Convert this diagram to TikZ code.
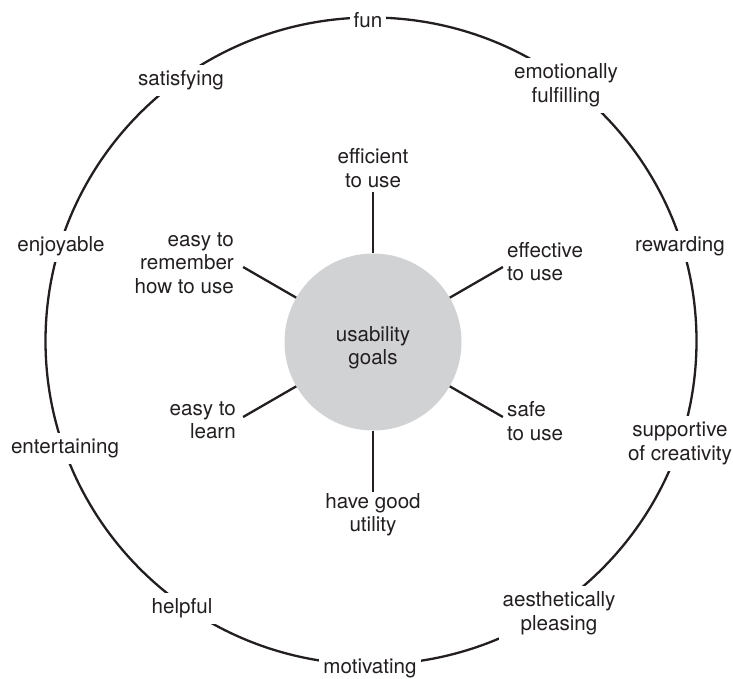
\documentclass[tikz,border=0pt]{standalone}
\usepackage{fontspec}
\setmainfont{TeX Gyre Heros}
\definecolor{goalgray}{RGB}{209,210,212}
\definecolor{ink}{RGB}{35,31,32}
\begin{document}
\begin{tikzpicture}[x=1pt,y=-1pt,
  txt/.style={font=\fontsize{20.6}{23.5}\selectfont, text=ink},
  outerlbl/.style={txt, fill=white, inner sep=4pt, align=center},
  innerlbl/.style={txt, inner sep=0pt},
  spoke/.style={draw=ink, line width=2.3pt},
  ring/.style={draw=ink, line width=2.3pt}]
\useasboundingbox (0,0) rectangle (733,678);
% outer ring
\draw[ring] (371,341) ellipse [x radius=325.5, y radius=323.5];
% centre
\node[circle, fill=goalgray, minimum size=177pt, inner sep=0pt] (goals) at (373,342) {};
\node[innerlbl, align=center] (goalstxt) at (373,348.3) {\strut usability\\\strut goals};
% spoke ends
\coordinate (sN)  at (373,192);
\coordinate (sNE) at (502.9,267);
\coordinate (sNW) at (243.1,267);
\coordinate (sSW) at (243.1,417);
\coordinate (sSE) at (502.9,417);
\coordinate (sS)  at (373,492);
\draw[spoke] (goals.90)  -- (sN);
\draw[spoke] (goals.30)  -- (sNE);
\draw[spoke] (goals.150) -- (sNW);
\draw[spoke] (goals.210) -- (sSW);
\draw[spoke] (goals.330) -- (sSE);
\draw[spoke] (goals.270) -- (sS);
% inner labels
\node[innerlbl, align=center] (efficient) at (373,170.8) {\strut efficient\\\strut to use};
\node[innerlbl, align=left, anchor=west] (effective) at (507,264.3) {\strut effective\\\strut to use};
\node[innerlbl, align=right, anchor=east] (remember) at (234,265) {\strut easy to\\\strut remember\\\strut how to use};
\node[innerlbl, align=right, anchor=east] (learn) at (236,422.3) {\strut easy to\\\strut learn};
\node[innerlbl, align=left, anchor=west] (safe) at (507,423.8) {\strut safe\\\strut to use};
\node[innerlbl, align=center] (utility) at (373,515.3) {\strut have good\\\strut utility};
% outer labels
\node[outerlbl] (fun) at (368,22.3) {\strut fun};
\node[outerlbl] (satisfying) at (181,80.3) {\strut satisfying};
\node[outerlbl] (emotional) at (566,85.8) {\strut emotionally\\\strut fulfilling};
\node[outerlbl] (enjoyable) at (61,246.3) {\strut enjoyable};
\node[outerlbl] (rewarding) at (680,246.3) {\strut rewarding};
\node[outerlbl] (entertaining) at (65,448.3) {\strut entertaining};
\node[outerlbl] (supportive) at (680,443.8) {\strut supportive\\\strut of creativity};
\node[outerlbl] (helpful) at (182,608.3) {\strut helpful};
\node[outerlbl] (aesthetic) at (559,613.8) {\strut aesthetically\\\strut pleasing};
\node[outerlbl] (motivating) at (370,668.3) {\strut motivating};
\end{tikzpicture}
\end{document}
